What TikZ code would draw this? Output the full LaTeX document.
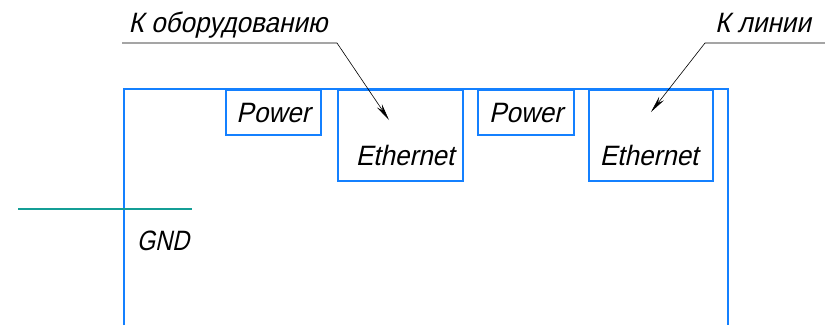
\documentclass[tikz,border=0pt]{standalone}
\usepackage{fontspec}
\newfontfamily\gost[FakeStretch=0.93,FakeSlant=0.22]{Liberation Sans}
\newfontfamily\gostn[FakeStretch=0.84,FakeSlant=0.22]{Liberation Sans}
\usetikzlibrary{arrows.meta}
\definecolor{frameblue}{RGB}{20,128,255}
\definecolor{gndteal}{RGB}{20,158,150}
\tikzset{
  frame/.style={draw=frameblue, line width=1.8pt},
  portbox/.style={draw=frameblue, line width=1.8pt, rectangle, inner sep=0pt, anchor=north west},
  lbl/.style={font=\gost\fontsize{28}{30}\selectfont, inner sep=0pt, text=black},
  lbln/.style={font=\gostn\fontsize{28}{30}\selectfont, inner sep=0pt, text=black},
  leader/.style={draw=black, line width=0.6pt},
  leaderarrow/.style={leader, -{Stealth[length=17pt,width=6pt]}},
  gnd/.style={draw=gndteal, line width=2.8pt}
}
\begin{document}
\begin{tikzpicture}[x=1pt,y=-1pt]
\useasboundingbox (0,0) rectangle (825,325);
% frame
\coordinate (fbl) at (124,325);
\coordinate (ftl) at (124,89);
\coordinate (ftr) at (728,89);
\coordinate (fbr) at (728,325);
\draw[frame] (fbl) -- (ftl) -- (ftr) -- (fbr);
% ports
\node[portbox, minimum width=95pt, minimum height=45pt] (pw1) at (225,89) {};
\node[portbox, minimum width=125pt, minimum height=91pt] (eth1) at (337,89) {};
\node[portbox, minimum width=96pt, minimum height=45pt] (pw2) at (477,89) {};
\node[portbox, minimum width=124pt, minimum height=91pt] (eth2) at (588,89) {};
\node[lbl] (tpw1) at ([yshift=-1pt]pw1.center) {Power};
\node[lbl] (tpw2) at ([yshift=-1pt]pw2.center) {Power};
\node[lbl, anchor=base] (teth1) at (405,165) {Ethernet};
\node[lbl, anchor=base] (teth2) at (649,165) {Ethernet};
% GND
\coordinate (g1) at (18,209);
\coordinate (g2) at (192,209);
\draw[gnd] (g1) -- (g2);
\node[lbln, anchor=base] (tgnd) at (163,250) {GND};
% leaders
\node[lbl, anchor=base] (teq) at (228,32) {К оборудованию};
\coordinate (la) at (122,43);
\coordinate (lb) at (337,43);
\coordinate (lt) at (389,120);
\draw[leaderarrow] (la) -- (lb) -- (lt);
\node[lbl, anchor=base] (tline) at (763,32) {К линии};
\coordinate (ra) at (825,43);
\coordinate (rb) at (705,43);
\coordinate (rt) at (651,112);
\draw[leaderarrow] (ra) -- (rb) -- (rt);
\end{tikzpicture}
\end{document}
